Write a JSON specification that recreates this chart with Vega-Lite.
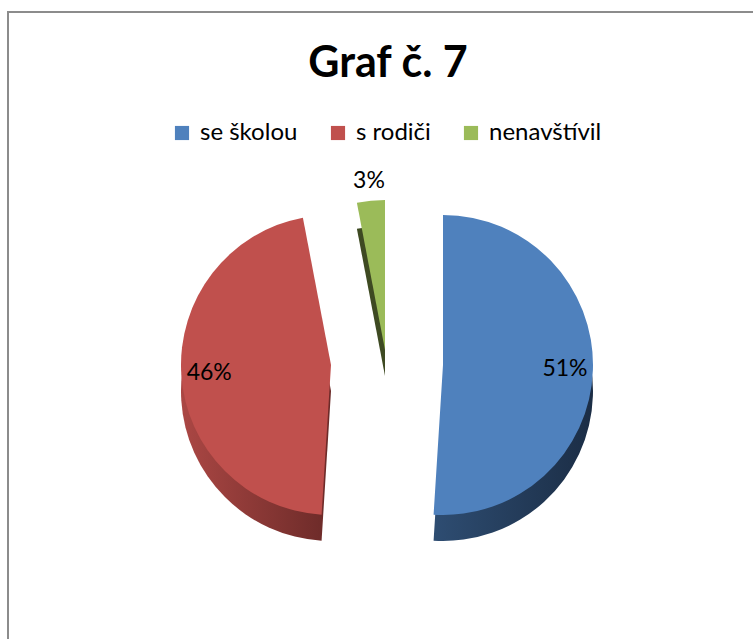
{
  "$schema": "https://vega.github.io/schema/vega-lite/v6.json",
  "width": 760,
  "height": 706,
  "autosize": {"type": "none"},
  "padding": {"left": 8, "top": 12, "right": 0, "bottom": 0},
  "background": "white",
  "view": {"stroke": "#8c8c8c", "strokeWidth": 2, "fill": "white"},
  "config": {
    "view": {"stroke": "#8c8c8c", "strokeWidth": 2},
    "font": "Lato",
    "legend": {
      "orient": "none",
      "legendX": 162,
      "legendY": 109,
      "direction": "horizontal",
      "symbolType": "square",
      "symbolSize": 200,
      "symbolStrokeWidth": 0,
      "labelFontSize": 24,
      "labelFont": "Lato",
      "labelColor": "#000000",
      "labelOffset": 6,
      "columnPadding": 28
    }
  },
  "title": {
    "text": "Graf č. 7",
    "fontSize": 43,
    "fontWeight": "bold",
    "font": "Lato",
    "color": "#000000",
    "anchor": "middle",
    "baseline": "alphabetic",
    "offset": 0,
    "dy": 108
  },
  "data": {
    "values": [
      {"kategorie": "se školou", "podil": 51, "poradi": 1, "popisek": "51%"},
      {"kategorie": "s rodiči", "podil": 46, "poradi": 2, "popisek": "46%"},
      {"kategorie": "nenavštívil", "podil": 3, "poradi": 3, "popisek": "3%"}
    ]
  },
  "encoding": {
    "theta": {"field": "podil", "type": "quantitative", "stack": true},
    "order": {"field": "poradi", "type": "quantitative"}
  },
  "layer": [
    {
      "mark": {"type": "arc", "outerRadius": 150, "xOffset": 55, "yOffset": 26,
        "color": {"gradient": "linear", "x1": 0, "y1": 0, "x2": 1, "y2": 0,
          "stops": [{"offset": 0, "color": "#2e4d72"}, {"offset": 1, "color": "#1b2d45"}]}},
      "encoding": {"fillOpacity": {"condition": {"test": "datum.kategorie === 'se školou'", "value": 1}, "value": 0}}
    },
    {
      "mark": {"type": "arc", "outerRadius": 150, "xOffset": -57, "yOffset": 26,
        "color": {"gradient": "linear", "x1": 0, "y1": 0, "x2": 1, "y2": 0,
          "stops": [{"offset": 0, "color": "#ab4744"}, {"offset": 1, "color": "#6b2a28"}]}},
      "encoding": {"fillOpacity": {"condition": {"test": "datum.kategorie === 's rodiči'", "value": 1}, "value": 0}}
    },
    {
      "mark": {"type": "arc", "outerRadius": 150, "xOffset": -3, "yOffset": 11, "color": "#3e4a22"},
      "encoding": {"fillOpacity": {"condition": {"test": "datum.kategorie === 'nenavštívil'", "value": 1}, "value": 0}}
    },
    {
      "mark": {"type": "arc", "outerRadius": 150, "xOffset": 55},
      "encoding": {
        "color": {"field": "kategorie", "type": "nominal", "title": null,
          "scale": {"domain": ["se školou", "s rodiči", "nenavštívil"], "range": ["#4f81bd", "#c0504d", "#9bbb59"]}},
        "fillOpacity": {"condition": {"test": "datum.kategorie === 'se školou'", "value": 1}, "value": 0}
      }
    },
    {
      "mark": {"type": "arc", "outerRadius": 150, "xOffset": -57},
      "encoding": {
        "color": {"field": "kategorie", "type": "nominal", "title": null,
          "scale": {"domain": ["se školou", "s rodiči", "nenavštívil"], "range": ["#4f81bd", "#c0504d", "#9bbb59"]}},
        "fillOpacity": {"condition": {"test": "datum.kategorie === 's rodiči'", "value": 1}, "value": 0}
      }
    },
    {
      "mark": {"type": "arc", "outerRadius": 150, "xOffset": -3, "yOffset": -15},
      "encoding": {
        "color": {"field": "kategorie", "type": "nominal", "title": null,
          "scale": {"domain": ["se školou", "s rodiči", "nenavštívil"], "range": ["#4f81bd", "#c0504d", "#9bbb59"]}},
        "fillOpacity": {"condition": {"test": "datum.kategorie === 'nenavštívil'", "value": 1}, "value": 0}
      }
    },
    {
      "mark": {"type": "text", "radius": 122, "xOffset": 55, "fontSize": 23, "font": "Lato", "color": "#000000"},
      "encoding": {
        "text": {"field": "popisek"},
        "opacity": {"condition": {"test": "datum.kategorie === 'se školou'", "value": 1}, "value": 0}
      }
    },
    {
      "mark": {"type": "text", "radius": 122, "xOffset": -57, "fontSize": 23, "font": "Lato", "color": "#000000"},
      "encoding": {
        "text": {"field": "popisek"},
        "opacity": {"condition": {"test": "datum.kategorie === 's rodiči'", "value": 1}, "value": 0}
      }
    },
    {
      "mark": {"type": "text", "radius": 170, "xOffset": -3, "yOffset": -15, "fontSize": 23, "font": "Lato", "color": "#000000"},
      "encoding": {
        "text": {"field": "popisek"},
        "opacity": {"condition": {"test": "datum.kategorie === 'nenavštívil'", "value": 1}, "value": 0}
      }
    }
  ]
}
